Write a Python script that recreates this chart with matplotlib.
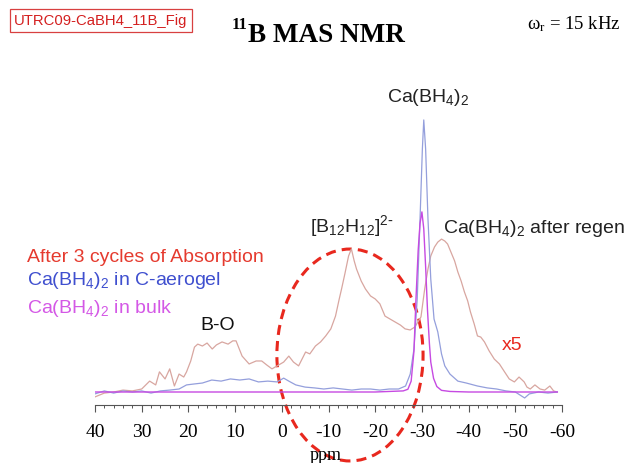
import matplotlib
matplotlib.use("Agg")
import matplotlib.pyplot as plt
from matplotlib.patches import Ellipse, Rectangle
from matplotlib.ticker import MultipleLocator

plt.rcParams['font.family'] = ['Liberation Sans', 'DejaVu Sans']
plt.rcParams['mathtext.default'] = 'regular'
plt.rcParams['axes.unicode_minus'] = False

# 11B MAS NMR traces, chemical shift (ppm) vs intensity (aerogel peak = 100)
red_ppm = [40, 38, 36, 34, 32, 30, 28.3, 27, 26.2, 25, 24, 23, 22, 21, 20.4, 19.5,
           18.7, 18, 17, 16, 14.9, 14, 12.8, 11.5, 10.5, 9.8, 8.5, 7, 5.5, 4.3, 3.2,
           2.1, 1, -0.4, -1.5, -2.5, -3.6, -5.1, -6, -7.2, -8.3, -9.4, -10.5, -11.5,
           -12.3, -12.8, -13.5, -14.3, -14.9, -15.5, -16, -17, -17.9, -19, -20, -21,
           -22.1, -23.2, -24.3, -25.4, -26.4, -27.5, -28.5, -29.8, -30.6, -31.3,
           -31.9, -32.7, -33.4, -34.2, -34.9, -35.5, -36.2, -37, -37.7, -38.4, -39.1,
           -39.8, -40.4, -41.2, -41.9, -42.6, -43.4, -44.4, -45.5, -46.6, -47.7,
           -48.7, -49.8, -50.8, -51.9, -52.5, -53.2, -54.2, -55.3, -56.3, -57.4,
           -58.2, -58.9]
red_int = [-1.8, -0.4, 0, 0.7, 0.4, 1.1, 4.0, 2.6, 7.4, 4.8, 8.5, 2.2, 6.6, 5.5, 7.4, 11.4,
           16.5, 17.6, 16.9, 18.0, 15.8, 17.3, 18.4, 17.6, 18.8, 18.8, 13.2, 10.3, 11.4,
           11.4, 9.9, 8.5, 9.6, 11.0, 13.2, 11.0, 9.6, 14.7, 14.0, 16.9, 18.4, 20.6,
           23.2, 27.9, 34.2, 37.9, 43.4, 50.0, 52.6, 48.2, 45.2, 40.8, 37.9, 35.3, 34.2,
           32.4, 27.9, 26.8, 25.7, 24.6, 23.2, 22.8, 23.9, 27.6, 37.9, 45.2, 50.0, 53.3,
           55.1, 56.2, 55.5, 54.4, 51.5, 48.2, 44.1, 40.8, 36.8, 33.5, 29.4, 25.0, 20.6,
           20.2, 18.4, 15.1, 12.1, 10.3, 7.4, 4.8, 3.7, 5.5, 3.7, 1.8, 1.1, 2.6, 1.1,
           0.7, 2.2, 0.4, 0]

blue_ppm = [40, 38, 36, 34, 32, 30, 28, 26, 24, 22, 20.4, 19, 17, 15, 13, 11, 9, 7, 5, 3,
            1, -0.4, -1.5, -3, -5, -7, -9, -11, -13, -15, -17, -19, -21, -23, -25, -26.5,
            -27.5, -28.3, -29, -29.6, -30.1, -30.4, -30.8, -31.3, -31.9, -32.6, -33.4,
            -34.2, -34.9, -36, -37.7, -39.5, -41.9, -44, -46, -48, -50, -51, -52, -53,
            -55, -57, -59]
blue_int = [-0.7, 0.4, -0.4, 0.4, 0, 0.4, -0.4, 0.4, 0.7, 1.1, 2.6, 2.9, 3.3, 4.4, 4.0,
            4.8, 4.4, 4.8, 3.7, 4.0, 3.7, 5.1, 4.0, 2.6, 1.8, 1.5, 1.1, 1.5, 1.1, 0.7, 1.1,
            1.1, 0.7, 1.1, 1.1, 2.2, 6.6, 15.8, 34.2, 63.6, 89.3, 100, 89.3, 63.6, 41.5,
            26.8, 22.1, 14.0, 9.6, 6.6, 4.0, 3.3, 2.2, 1.5, 1.1, 0.4, 0, -1.1, -2.2, -0.7,
            0, -0.4, 0]

mag_ppm = [40, 30, 20, 10, 0, -10, -20, -26, -27, -27.7, -28.3, -28.7, -29.2, -29.6, -30,
           -30.4, -30.8, -31.2, -31.6, -31.9, -32.5, -33.2, -34.2, -36, -40, -50, -59]
mag_int = [0, 0, 0, 0, 0, 0, 0, 0.4, 1.0, 4.0, 15, 33, 52, 62, 66.2, 60, 46, 30, 18, 11,
           5, 2.0, 0.6, 0.2, 0, 0, 0]

xticks = [40, 30, 20, 10, 0, -10, -20, -30, -40, -50, -60]

W, H = 627, 464
fig = plt.figure(figsize=(W / 100, H / 100), dpi=100)
ax = fig.add_axes([95 / W, 1 - 406 / H, 467 / W, 306 / H])

ax.plot(red_ppm, red_int, color='#d8a6a0', lw=0.9)
ax.plot(blue_ppm, blue_int, color='#949fdc', lw=0.9)
ax.plot(mag_ppm, mag_int, color='#c64ae2', lw=1.0)

ax.set_xlim(40, -60)
ax.set_ylim(-4.78, 107.7)
for s in ['top', 'left', 'right']:
    ax.spines[s].set_visible(False)
ax.spines['bottom'].set_color('#555555')
ax.set_yticks([])
ax.set_xticks(xticks)
ax.xaxis.set_minor_locator(MultipleLocator(2))
ax.tick_params(axis='x', which='major', length=5, width=0.8, color='#555555',
               pad=8, labelsize=14, labelfontfamily='Liberation Serif')
ax.tick_params(axis='x', which='minor', length=2.5, width=0.7, color='#555555')
ax.text(-9.3, -23.0, 'ppm', family='Liberation Serif', fontsize=13,
        ha='center', va='center', clip_on=False)

# dashed ring round the B12H12 region
ring = Ellipse((-14.6, 13.6), 31.3, 77.9, fill=False, edgecolor='#e8281e', lw=2.2,
               linestyle=(0, (3.3, 2.0)), clip_on=False)
ax.add_patch(ring)

# peak labels
ax.text(-31.3, 108.5, 'Ca(BH$_4$)$_2$', fontsize=14, color='#222222',
        ha='center', va='center', clip_on=False)
ax.text(-15.0, 59.2, r'[B$_{12}$H$_{12}$]$^{2\text{-}}$', fontsize=14, color='#222222',
        ha='center', va='baseline')
ax.text(-34.5, 58.8, 'Ca(BH$_4$)$_2$ after regen', fontsize=14, color='#222222',
        ha='left', va='baseline', clip_on=False)
ax.text(13.8, 23.2, 'B-O', fontsize=14, color='#111111', ha='center', va='baseline')
ax.text(-49.4, 15.8, 'x5', fontsize=14, color='#e8281e', ha='center', va='baseline')

# sample key
ax.text(54.6, 48.2, 'After 3 cycles of Absorption', fontsize=14, color='#e53a2e',
        ha='left', va='baseline', clip_on=False)
ax.text(54.6, 39.7, 'Ca(BH$_4$)$_2$ in C-aerogel', fontsize=14, color='#3f4fcf',
        ha='left', va='baseline', clip_on=False)
ax.text(54.6, 29.4, 'Ca(BH$_4$)$_2$ in bulk', fontsize=14, color='#d458e6',
        ha='left', va='baseline', clip_on=False)

# header
fig.patches.append(Rectangle((10 / W, 1 - 33 / H), 182 / W, 23 / H, fill=False,
                             edgecolor='#d84040', lw=0.9, transform=fig.transFigure))
fig.text(101 / W, 1 - 21.5 / H, 'UTRC09-CaBH4_11B_Fig', fontsize=10.7, color='#d42020',
         ha='center', va='center')
fig.text(248 / W, 1 - 42 / H, 'B MAS NMR', family='Liberation Serif',
         fontweight='bold', fontsize=19.5, ha='left', va='baseline')
fig.text(248 / W, 1 - 25 / H, '11', family='Liberation Serif',
         fontweight='bold', fontsize=12, ha='right', va='center')
fig.text(620 / W, 1 - 29 / H, r'$\omega_r$ = 15 kHz', family='Liberation Serif',
         fontsize=13.5, ha='right', va='baseline')

fig.savefig('out.png', dpi=100)
